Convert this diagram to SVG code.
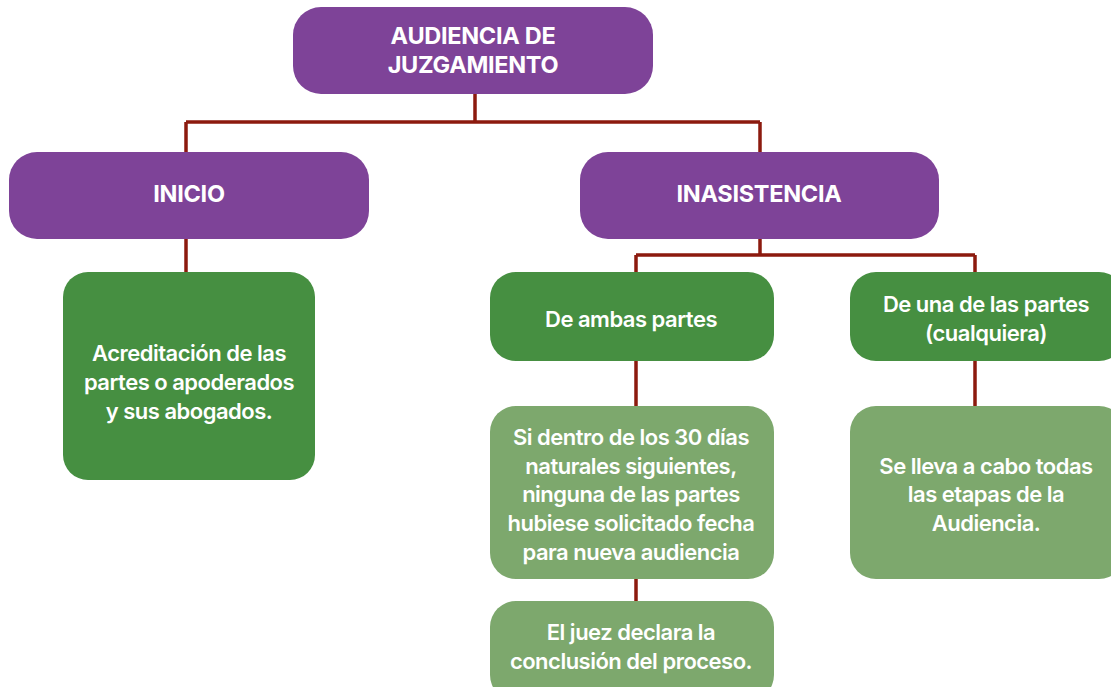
<svg xmlns="http://www.w3.org/2000/svg" width="1111" height="687" viewBox="0 0 1111 687">
<style>
.p{fill:#7E4398}
.g{fill:#468F41}
.lg{fill:#7DA86D}
.t{font-family:Inter,"Noto Sans",sans-serif;font-weight:700;fill:#fff;text-anchor:middle}
.tp{font-size:23.5px;letter-spacing:-0.3px}
.tg{font-size:22px;font-weight:600;letter-spacing:-0.5px}
.c{stroke:#8C1A0E;stroke-width:3.5;fill:none}
</style>
<rect width="1111" height="687" fill="#fff"/>
<g id="connectors">
<path class="c" d="M475 94V122M186 122H760M186 122V152M760 122V152"/>
<path class="c" d="M186 239V272"/>
<path class="c" d="M760 239V255M636 255H975M636 255V272M975 255V272"/>
<path class="c" d="M636 361V406M636 579V601M975 361V406"/>
</g>
<g id="n-audiencia">
<rect class="p" x="293" y="7" width="360" height="87" rx="28"/>
<text class="t tp" x="473" y="44">AUDIENCIA DE</text>
<text class="t tp" x="473" y="73">JUZGAMIENTO</text>
</g>
<g id="n-inicio">
<rect class="p" x="9" y="152" width="360" height="87" rx="28"/>
<text class="t tp" x="189" y="202">INICIO</text>
</g>
<g id="n-inasistencia">
<rect class="p" x="580" y="152" width="359" height="87" rx="28"/>
<text class="t tp" x="759" y="202">INASISTENCIA</text>
</g>
<g id="n-acreditacion">
<rect class="g" x="63" y="272" width="252" height="208" rx="25"/>
<text class="t tg" x="189" y="361">Acreditación de las</text>
<text class="t tg" x="189" y="390">partes o apoderados</text>
<text class="t tg" x="189" y="419">y sus abogados.</text>
</g>
<g id="n-ambas">
<rect class="g" x="490" y="272" width="284" height="89" rx="26"/>
<text class="t tg" x="631" y="327">De ambas partes</text>
</g>
<g id="n-una">
<rect class="g" x="850" y="272" width="275" height="89" rx="26"/>
<text class="t tg" x="986" y="312">De una de las partes</text>
<text class="t tg" x="986" y="341">(cualquiera)</text>
</g>
<g id="n-si-dentro">
<rect class="lg" x="490" y="406" width="284" height="173" rx="26"/>
<text class="t tg" x="631" y="445">Si dentro de los 30 días</text>
<text class="t tg" x="631" y="474">naturales siguientes,</text>
<text class="t tg" x="631" y="502">ninguna de las partes</text>
<text class="t tg" x="631" y="531">hubiese solicitado fecha</text>
<text class="t tg" x="631" y="560">para nueva audiencia</text>
</g>
<g id="n-se-lleva">
<rect class="lg" x="850" y="406" width="275" height="173" rx="26"/>
<text class="t tg" x="986" y="474">Se lleva a cabo todas</text>
<text class="t tg" x="986" y="502">las etapas de la</text>
<text class="t tg" x="986" y="531">Audiencia.</text>
</g>
<g id="n-juez">
<rect class="lg" x="490" y="601" width="284" height="100" rx="26"/>
<text class="t tg" x="631" y="640">El juez declara la</text>
<text class="t tg" x="631" y="669">conclusión del proceso.</text>
</g>
</svg>
